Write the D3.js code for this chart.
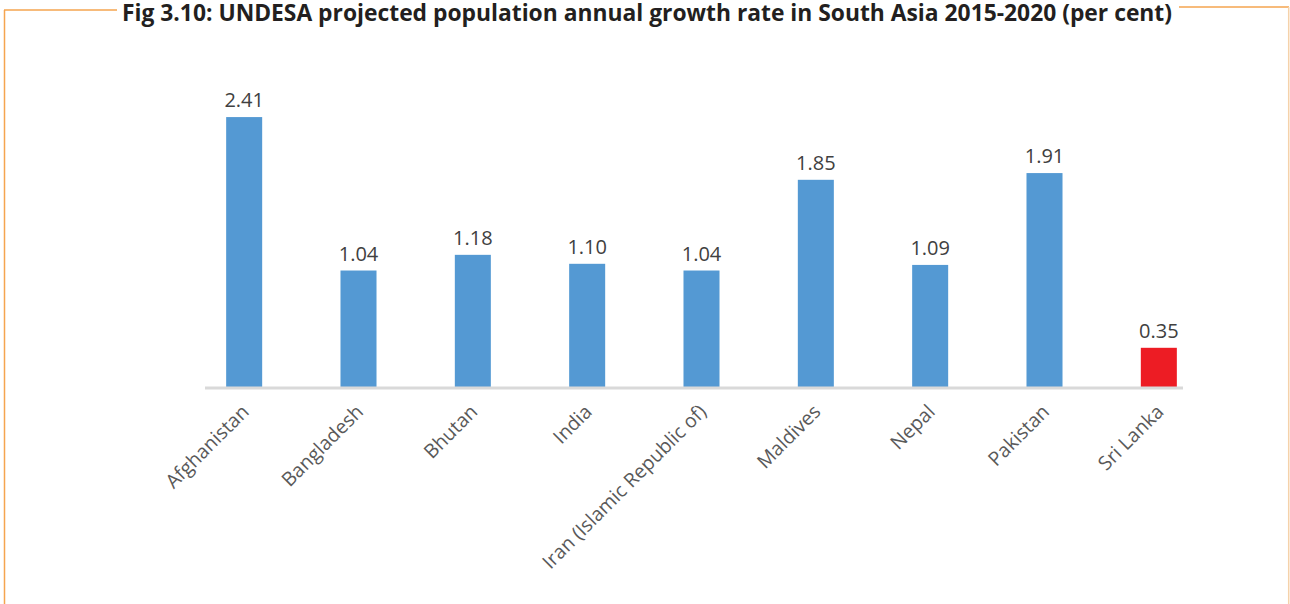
<!DOCTYPE html>
<html><head><meta charset="utf-8">
<script src="https://cdn.jsdelivr.net/npm/d3@7"></script>
<style>body{margin:0;background:#fff}svg{display:block}</style>
</head><body>
<svg id="c" width="1290" height="604"></svg>
<script>
const title = "Fig 3.10: UNDESA projected population annual growth rate in South Asia 2015-2020 (per cent)";
const categories = ["Afghanistan","Bangladesh","Bhutan","India","Iran (Islamic Republic of)","Maldives","Nepal","Pakistan","Sri Lanka"];
const values = [2.41,1.04,1.18,1.10,1.04,1.85,1.09,1.91,0.35];
const highlight = ["Sri Lanka"];

const svg = d3.select("#c");
const x = d3.scaleBand().domain(categories).range([187, 1216]).paddingInner(0.685).paddingOuter(0.3425);
const y = d3.scaleLinear().domain([0, 2.5]).range([387, 107]);

// frame
const frame = "#f5a54f";
svg.append("line").attr("x1",4.5).attr("x2",4.5).attr("y1",10).attr("y2",604).attr("stroke",frame).attr("stroke-width",1.5);
svg.append("line").attr("x1",4).attr("x2",117).attr("y1",10).attr("y2",10).attr("stroke",frame).attr("stroke-width",1.5);
svg.append("line").attr("x1",1179).attr("x2",1289).attr("y1",7).attr("y2",7).attr("stroke",frame).attr("stroke-width",1.5);
svg.append("line").attr("x1",1288.7).attr("x2",1288.7).attr("y1",7).attr("y2",604).attr("stroke","#f5d2aa").attr("stroke-width",1.5);

// title
svg.append("text").attr("x",122).attr("y",21)
  .attr("font-family","'Open Sans', sans-serif").attr("font-weight","bold").attr("font-size",24)
  .attr("fill","#231f20").attr("textLength",1050).attr("lengthAdjust","spacingAndGlyphs").text(title);

// bars
svg.append("g").selectAll("rect").data(categories).join("rect")
  .attr("x", d => x(d)).attr("width", x.bandwidth())
  .attr("y", (d,i) => y(values[i])).attr("height", (d,i) => y(0) - y(values[i]))
  .attr("fill", d => highlight.includes(d) ? "#ed1c24" : "#5499d3");

// axis line
svg.append("line").attr("x1",205).attr("x2",1183).attr("y1",y(0)+1).attr("y2",y(0)+1).attr("stroke","#d9d9d9").attr("stroke-width",3);

// value labels
svg.append("g").selectAll("text").data(categories).join("text")
  .attr("x", d => x(d) + x.bandwidth()/2).attr("y", (d,i) => y(values[i]) - 10)
  .attr("text-anchor","middle").attr("font-family","'Open Sans', sans-serif").attr("font-size",20)
  .attr("fill","#404040").text((d,i) => values[i].toFixed(2));

// category labels
svg.append("g").selectAll("text").data(categories).join("text")
  .attr("transform", d => `translate(${x(d) + x.bandwidth()/2 + 6},${413}) rotate(-45)`)
  .attr("text-anchor","end").attr("font-family","'Open Sans', sans-serif").attr("font-size",19.5)
  .attr("fill","#595959").text(d => d);
</script>
</body></html>
